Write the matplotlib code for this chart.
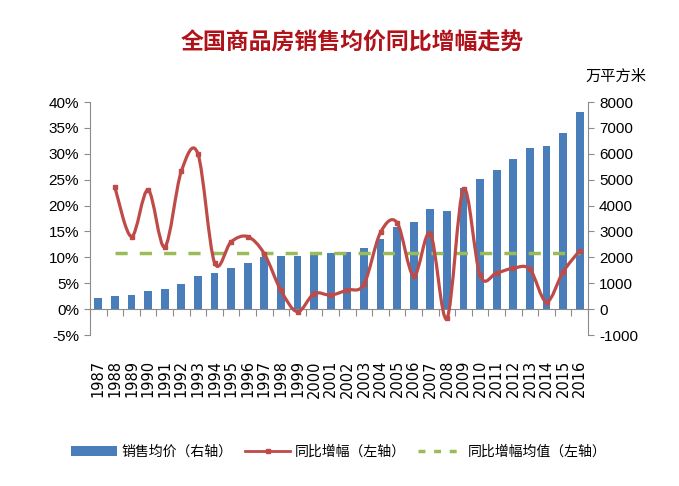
import matplotlib
matplotlib.use("Agg")
import matplotlib.pyplot as plt
from matplotlib.path import Path
from matplotlib.patches import PathPatch, Patch
from matplotlib.lines import Line2D
import numpy as np

plt.rcParams['font.family'] = ['Liberation Sans Narrow', 'Liberation Sans', 'Noto Sans CJK SC', 'DejaVu Sans']

years = [str(y) for y in range(1987, 2017)]
price = [410, 503, 545, 690, 765, 980, 1280, 1402, 1575, 1790, 2005, 2058, 2055,
         2100, 2165, 2215, 2350, 2700, 3168, 3350, 3862, 3775, 4683, 5020, 5365,
         5792, 6230, 6310, 6785, 7600]
growth_years = years[1:]
growth = [23.5, 14.0, 23.0, 12.0, 26.6, 30.0, 9.0, 13.0, 14.0, 10.7, 3.6, -0.5,
          3.0, 2.7, 3.7, 4.8, 14.8, 16.7, 6.4, 14.6, -1.8, 23.2, 6.5, 7.0, 7.9,
          7.7, 1.4, 7.2, 11.3]
growth_mean = 10.8

left_ticks = [-5, 0, 5, 10, 15, 20, 25, 30, 35, 40]
right_ticks = [-1000, 0, 1000, 2000, 3000, 4000, 5000, 6000, 7000, 8000]

title = '全国商品房销售均价同比增幅走势'
unit = '万平方米'
leg_labels = ['销售均价（右轴）', '同比增幅（左轴）', '同比增幅均值（左轴）']

BLUE = '#4A7EBB'
RED = '#BE4B48'
GREEN = '#9BBB59'
GRAY = '#8C8C8C'
CJK = ['Noto Sans CJK SC', 'DejaVu Sans']

fig = plt.figure(figsize=(6.79, 4.86), dpi=100)
ax = fig.add_axes([90/679, 1-335/486, (588-90)/679, (335-102)/486])
ax2 = ax.twinx()
ax.set_zorder(ax2.get_zorder() + 1)
ax.patch.set_visible(False)

n = len(years)
x = np.arange(n)
ax2.bar(x, price, width=0.47, color=BLUE, zorder=2)
ax2.set_ylim(-1000, 8000)
ax2.set_yticks(right_ticks)
ax2.set_yticklabels([str(t) for t in right_ticks])

ax.set_ylim(-5, 40)
ax.set_yticks(left_ticks)
ax.set_yticklabels([f'{t}%' for t in left_ticks])
ax.set_xlim(-0.5, n - 0.5)

# smoothed growth line (Excel-style Catmull-Rom Bezier)
gx = np.array([years.index(y) for y in growth_years], dtype=float)
gy = np.array(growth, dtype=float)
pts = np.column_stack([gx, gy])
verts = [pts[0]]
codes = [Path.MOVETO]
m = len(pts)
for i in range(m - 1):
    p0 = pts[i - 1] if i > 0 else pts[i]
    p1 = pts[i]
    p2 = pts[i + 1]
    p3 = pts[i + 2] if i + 2 < m else pts[i + 1]
    c1 = p1 + (p2 - p0) / 6.0
    c2 = p2 - (p3 - p1) / 6.0
    verts += [c1, c2, p2]
    codes += [Path.CURVE4] * 3
ax.add_patch(PathPatch(Path(verts, codes), facecolor='none', edgecolor=RED, lw=2.3, zorder=4))
ax.plot(gx, gy, ls='none', marker='s', ms=3, color=RED, zorder=5)

ax.plot([gx[0], gx[-1]], [growth_mean, growth_mean], ls=(0, (3.5, 3.5)),
        color=GREEN, lw=2.5, zorder=3)

# spines
for a in (ax, ax2):
    a.spines['top'].set_visible(False)
    a.spines['bottom'].set_visible(False)
    a.spines['left'].set_color(GRAY)
    a.spines['right'].set_color(GRAY)
ax2.spines['left'].set_visible(False)
ax.spines['right'].set_visible(False)
ax.tick_params(axis='y', direction='out', length=4, color=GRAY, labelsize=11, pad=4)
ax2.tick_params(axis='y', direction='out', length=4, color=GRAY, labelsize=11, pad=4)

# category labels at bottom
ax.set_xticks(x)
ax.set_xticklabels(years, rotation=90, fontsize=10.5, family='DejaVu Sans')
ax.tick_params(axis='x', length=0, pad=18)

# category axis at zero
sec = ax.secondary_xaxis(5/45)
sec.set_xticks(np.arange(n + 1) - 0.5)
sec.set_xticklabels([])
sec.tick_params(axis='x', direction='out', length=5, color=GRAY)
sec.spines['bottom'].set_color(GRAY)

fig.text(352/679, 1-43/486, title, ha='center', va='center', fontsize=16.5,
         fontweight='bold', color='#B0121A', family=CJK)
fig.text(616/679, 1-76/486, unit, ha='center', va='center', fontsize=11, family=CJK)

handles = [Patch(facecolor=BLUE),
           Line2D([], [], color=RED, lw=2, marker='s', ms=3),
           Line2D([], [], color=GREEN, lw=2.5, ls=(0, (2, 2.5)))]
fig.legend(handles, leg_labels, loc='center', bbox_to_anchor=(339/679, 1-452/486),
           ncol=3, frameon=False, prop={'family': CJK, 'size': 10},
           handlelength=3.3, columnspacing=0.9, handletextpad=0.3)

fig.savefig('out.png', dpi=100, facecolor='white')
